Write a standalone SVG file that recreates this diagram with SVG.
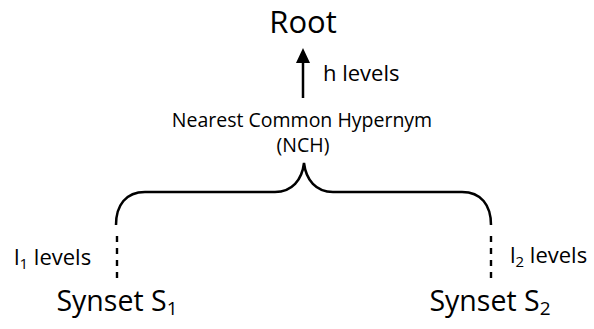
<svg xmlns="http://www.w3.org/2000/svg" width="594" height="329" viewBox="0 0 594 329">
<defs>
<style>
text{font-family:"Open Sans","Liberation Sans",sans-serif;fill:#000}
.root{font-size:31px}
.big{font-size:28.5px}
.mid{font-size:19.5px}
.lbl{font-size:22px}
.ln{fill:none;stroke:#000;stroke-width:2.5}
.dash{fill:none;stroke:#000;stroke-width:2.4;stroke-dasharray:6,6}
</style>
</defs>
<rect width="594" height="329" fill="#fff"/>
<g id="root"><text class="root" x="303" y="33" text-anchor="middle">Root</text></g>
<g id="nch">
<text class="mid" x="302" y="127" text-anchor="middle">Nearest Common Hypernym</text>
<text class="mid" x="303" y="152" text-anchor="middle">(NCH)</text>
</g>
<g id="s1"><text class="big" x="117" y="311" text-anchor="middle">Synset S<tspan font-size="19" dy="4">1</tspan></text></g>
<g id="s2"><text class="big" x="490" y="311" text-anchor="middle">Synset S<tspan font-size="19" dy="4">2</tspan></text></g>
<g id="connectors">
<line class="ln" x1="303" y1="98" x2="303" y2="62"/>
<path d="M296,63 L303,48 L310,63 Z" fill="#000"/>
<text class="lbl" x="323" y="81">h levels</text>
<path class="ln" d="M116,225 C116,205 126,192 145,192 L275,192 C292,192 302,180 304,163 C306,180 316,192 333,192 L462,192 C481,192 491,205 491,225"/>
<line class="dash" x1="117" y1="236" x2="117" y2="284"/>
<line class="dash" x1="491" y1="236" x2="491" y2="284"/>
<text class="lbl" x="14" y="265">l<tspan font-size="15" dy="4">1</tspan><tspan dy="-4"> levels</tspan></text>
<text class="lbl" x="510" y="263">l<tspan font-size="15" dy="4">2</tspan><tspan dy="-4"> levels</tspan></text>
</g>
</svg>
